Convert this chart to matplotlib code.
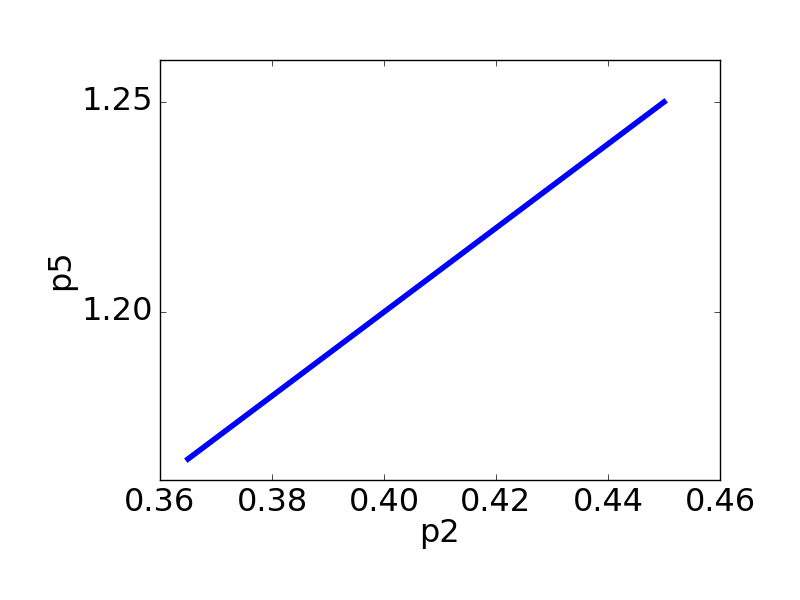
import matplotlib
matplotlib.use("Agg")
import matplotlib.pyplot as plt

p2 = [0.365, 0.45]
p5 = [1.165, 1.25]
xticks = [0.36, 0.38, 0.40, 0.42, 0.44, 0.46]
yticks = [1.20, 1.25]

plt.style.use("classic")
fig = plt.figure(figsize=(8, 6), dpi=100)
ax = fig.add_axes([0.2, 0.2, 0.7, 0.7])
ax.plot(p2, p5, color="blue", lw=4)
ax.set_xlim(0.36, 0.46)
ax.set_ylim(1.16, 1.26)
ax.set_xticks(xticks)
ax.set_yticks(yticks)
ax.set_xticklabels([f"{t:.2f}" for t in xticks])
ax.set_yticklabels([f"{t:.2f}" for t in yticks])
ax.tick_params(labelsize=23, pad=5)
ax.set_xlabel("p2", fontsize=23, labelpad=0)
ax.set_ylabel("p5", fontsize=23, labelpad=4)
fig.savefig("out.png", dpi=100, facecolor="white")
